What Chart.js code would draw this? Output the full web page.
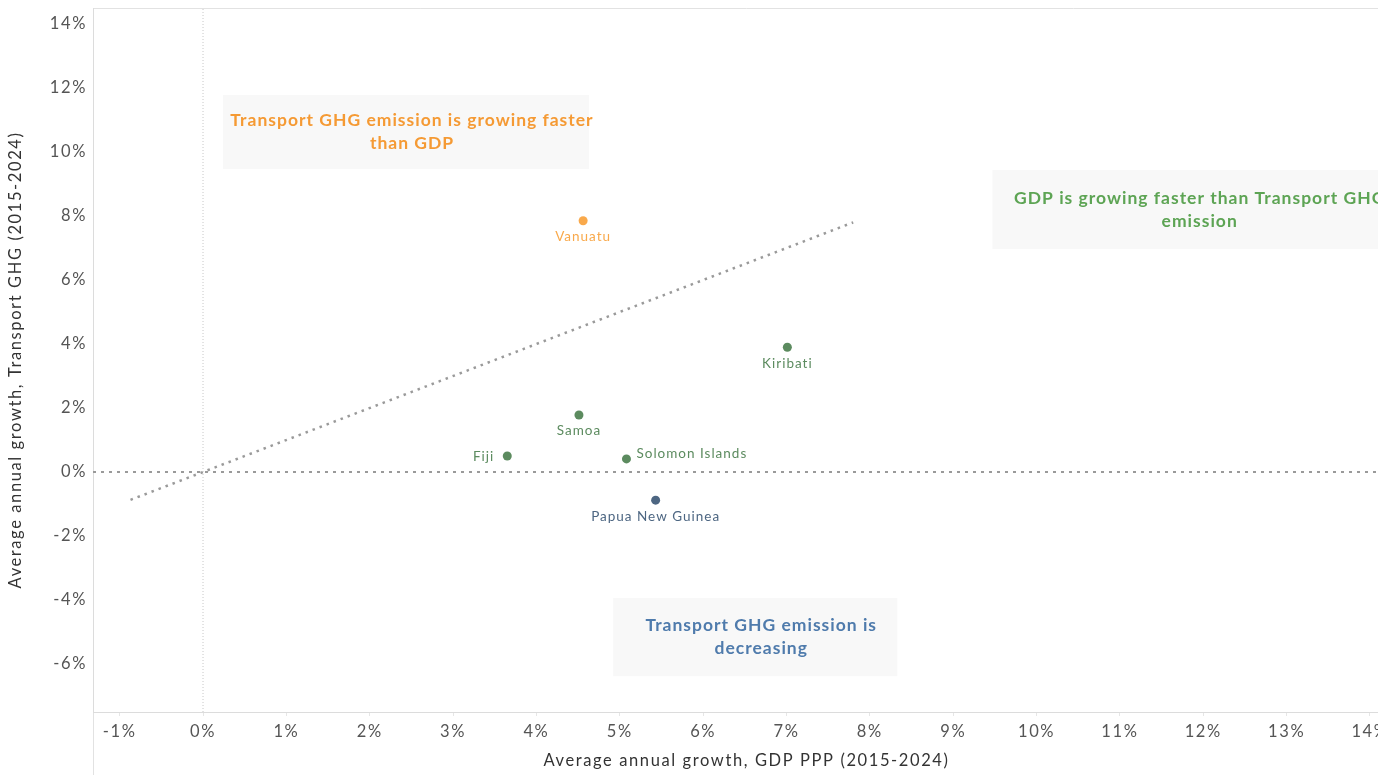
<!DOCTYPE html>
<html>
<head>
<meta charset="utf-8">
<script src="https://cdn.jsdelivr.net/npm/chart.js@4.4.1/dist/chart.umd.min.js"></script>
<style>
  html, body { margin: 0; padding: 0; background: #fff; overflow: hidden; }
  #wrap { width: 1410px; height: 775px; }
</style>
</head>
<body>
<div id="wrap"><canvas id="scatterChart" width="1410" height="775"></canvas></div>
<script>
// data
const countries = ['Vanuatu', 'Kiribati', 'Samoa', 'Fiji', 'Solomon Islands', 'Papua New Guinea'];
const gdpGrowth = [4.56, 7.01, 4.51, 3.65, 5.08, 5.43];
const ghgGrowth = [7.85, 3.9, 1.78, 0.5, 0.41, -0.88];
const pointColors = ['#f9a94b', '#5c8b5f', '#5c8b5f', '#5c8b5f', '#5c8b5f', '#4d6682'];
const labelSide = ['below', 'below', 'below', 'left', 'right', 'below'];

const xTicks = [-1, 0, 1, 2, 3, 4, 5, 6, 7, 8, 9, 10, 11, 12, 13, 14];
const yTicks = [-6, -4, -2, 0, 2, 4, 6, 8, 10, 12, 14];
const xRange = [-1.32, 14.36];
const yRange = [-7.5, 14.5];
const parityLine = [-0.87, 7.8];   // y = x reference line

const notes = [
    { lines: ['Transport GHG emission is growing faster', 'than GDP'], color: '#f59a34', box: [0.24, 4.63, 11.78, 9.47] },
    { lines: ['GDP is growing faster than Transport GHG', 'emission'], color: '#5da454', box: [9.47, 14.3, 9.44, 6.97] },
    { lines: ['Transport GHG emission is', 'decreasing'], color: '#4f7bac', box: [4.92, 8.33, -3.94, -6.38] }
];

const FONT = "'Lato', 'Open Sans', sans-serif";
const SPACING = '1.6px';

const spacingPlugin = {
    id: 'spacing',
    beforeUpdate(chart) { chart.ctx.letterSpacing = SPACING; },
    beforeDraw(chart) { chart.ctx.letterSpacing = SPACING; }
};

const notesPlugin = {
    id: 'notes',
    beforeDatasetsDraw(chart) {
        const { ctx, scales: { x, y } } = chart;
        ctx.save();
        notes.forEach(n => {
            const l = x.getPixelForValue(n.box[0]), r = x.getPixelForValue(n.box[1]);
            const t = y.getPixelForValue(n.box[2]), b = y.getPixelForValue(n.box[3]);
            ctx.fillStyle = '#f8f8f8';
            ctx.fillRect(l, t, r - l, b - t);
            ctx.fillStyle = n.color;
            ctx.font = 'bold 17.5px ' + FONT;
            ctx.letterSpacing = '1px';
            ctx.textAlign = 'center';
            ctx.textBaseline = 'middle';
            const cx = (l + r) / 2 + 6, cy = (t + b) / 2;
            n.lines.forEach((s, i) => ctx.fillText(s, cx, cy + (i - (n.lines.length - 1) / 2) * 23));
        });
        ctx.restore();
    }
};

const framePlugin = {
    id: 'frame',
    beforeDraw(chart) {
        const { ctx, chartArea: a } = chart;
        ctx.save();
        ctx.strokeStyle = '#e2e2e2';
        ctx.lineWidth = 1;
        ctx.beginPath();
        ctx.moveTo(a.left + 0.5, a.top + 0.5);
        ctx.lineTo(a.right, a.top + 0.5);
        ctx.moveTo(a.left + 0.5, a.top);
        ctx.lineTo(a.left + 0.5, chart.height);
        ctx.stroke();
        ctx.restore();
    }
};

const pointLabels = {
    id: 'pointLabels',
    afterDatasetsDraw(chart) {
        const { ctx } = chart;
        const meta = chart.getDatasetMeta(3);
        ctx.save();
        ctx.font = '13.5px ' + FONT;
        ctx.letterSpacing = '1px';
        ctx.textBaseline = 'middle';
        meta.data.forEach((pt, i) => {
            ctx.fillStyle = pointColors[i];
            const side = labelSide[i];
            if (side === 'below') {
                ctx.textAlign = 'center';
                ctx.fillText(countries[i], pt.x, pt.y + 16);
            } else if (side === 'left') {
                ctx.textAlign = 'right';
                ctx.fillText(countries[i], pt.x - 13, pt.y + 1);
            } else {
                ctx.textAlign = 'left';
                ctx.fillText(countries[i], pt.x + 10, pt.y - 5);
            }
        });
        ctx.restore();
    }
};

new Chart(document.getElementById('scatterChart').getContext('2d'), {
    type: 'scatter',
    data: {
        datasets: [
            {
                data: [{ x: 0, y: yRange[0] }, { x: 0, y: yRange[1] }],
                showLine: true, borderColor: '#c8c8c8', borderWidth: 1, borderDash: [1, 2],
                pointRadius: 0
            },
            {
                data: [{ x: xRange[0], y: 0 }, { x: xRange[1], y: 0 }],
                showLine: true, borderColor: '#9a9a9a', borderWidth: 2, borderDash: [3, 5],
                pointRadius: 0
            },
            {
                data: parityLine.map(v => ({ x: v, y: v })),
                showLine: true, borderColor: '#9a9a9a', borderWidth: 2.5, borderDash: [2.5, 5],
                pointRadius: 0
            },
            {
                data: countries.map((c, i) => ({ x: gdpGrowth[i], y: ghgGrowth[i] })),
                pointBackgroundColor: pointColors,
                pointBorderWidth: 0,
                pointRadius: 4.5
            }
        ]
    },
    options: {
        responsive: false,
        animation: false,
        layout: { padding: { top: 8, right: 10, left: 0, bottom: 0 } },
        plugins: { legend: { display: false }, tooltip: { enabled: false } },
        scales: {
            x: {
                type: 'linear',
                min: xRange[0],
                max: xRange[1],
                afterBuildTicks: s => { s.ticks = xTicks.map(v => ({ value: v })); },
                afterFit: s => { s.height = 63; },
                grid: { drawOnChartArea: false, drawTicks: true, tickLength: 4, color: '#e6e6e6' },
                border: { color: '#dcdcdc' },
                ticks: { callback: v => v + '%', color: '#555', font: { family: FONT, size: 16.5 }, padding: 6, maxRotation: 0 },
                title: { display: true, text: 'Average annual growth, GDP PPP (2015-2024)', color: '#333', font: { family: FONT, size: 16.5 }, padding: { top: 4 } }
            },
            y: {
                min: yRange[0],
                max: yRange[1],
                afterBuildTicks: s => { s.ticks = yTicks.map(v => ({ value: v })); },
                afterFit: s => { s.width = 93; s.paddingTop = 0; s.paddingBottom = 0; },
                grid: { display: false, drawTicks: false },
                border: { color: '#dcdcdc' },
                ticks: { callback: v => v + '%', color: '#555', font: { family: FONT, size: 16.5 }, padding: 6 },
                title: { display: true, text: 'Average annual growth, Transport GHG (2015-2024)', color: '#333', font: { family: FONT, size: 16.5 }, padding: { top: 6, bottom: 0 } }
            }
        }
    },
    plugins: [spacingPlugin, notesPlugin, framePlugin, pointLabels]
});
</script>
</body>
</html>
